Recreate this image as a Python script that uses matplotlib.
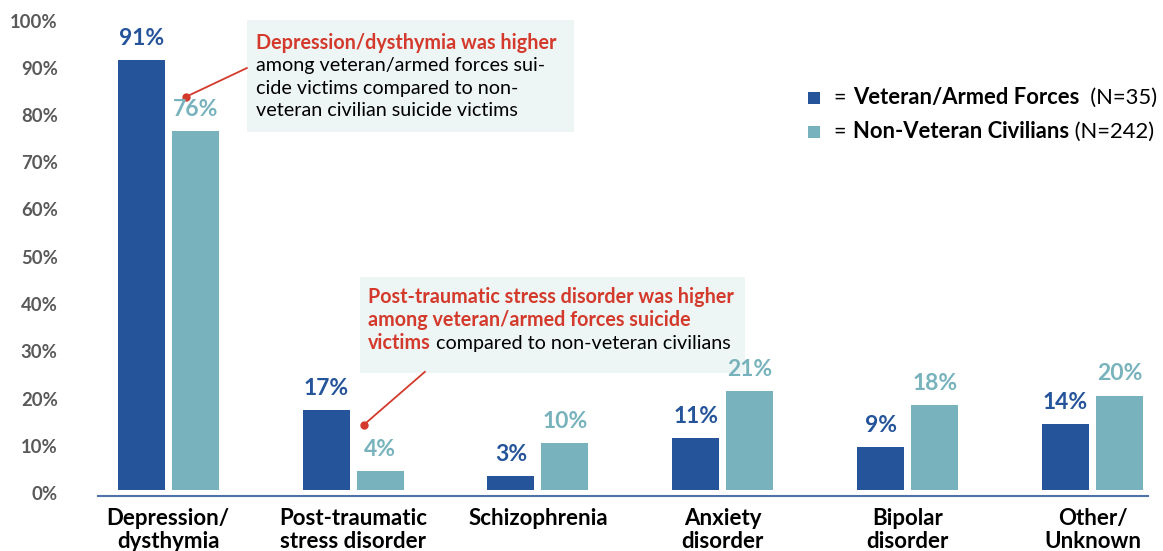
import matplotlib.pyplot as plt
from matplotlib.patches import Rectangle
from matplotlib.transforms import ScaledTranslation
import numpy as np

plt.rcParams['font.family'] = ['Lato', 'DejaVu Sans']

categories = ['Depression/\ndysthymia', 'Post-traumatic\nstress disorder', 'Schizophrenia',
              'Anxiety\ndisorder', 'Bipolar\ndisorder', 'Other/\nUnknown']
veteran = [91, 17, 3, 11, 9, 14]
civilian = [76, 4, 10, 21, 18, 20]
yticks = [0, 10, 20, 30, 40, 50, 60, 70, 80, 90, 100]

blue = '#25549a'
teal = '#78b3bd'
red = '#d33a2c'
W, H = 1163, 551


def px(x, y):
    # pixel (top-left origin) -> figure fraction
    return (x / W, 1 - y / H)


fig = plt.figure(figsize=(W / 100, H / 100), dpi=100)
ax = fig.add_axes([98 / W, 61 / H, 1050 / W, 472.5 / H])
ax.patch.set_visible(False)

x = np.arange(len(categories))
off = 0.146
bw = 0.254
ax.bar(x - off, veteran, bw, color=blue, zorder=2)
ax.bar(x + off, civilian, bw, color=teal, zorder=2)

for i in range(len(x)):
    ax.annotate(f'{veteran[i]}%', (x[i] - off, veteran[i]), xytext=(0, 8),
                textcoords='offset points', ha='center', va='bottom',
                fontsize=16.5, fontweight='bold', color=blue, zorder=5)
    ax.annotate(f'{civilian[i]}%', (x[i] + off, civilian[i]), xytext=(0, 8),
                textcoords='offset points', ha='center', va='bottom',
                fontsize=16.5, fontweight='bold', color=teal, zorder=5)
    ax.annotate(categories[i], (x[i], 0), xycoords=('data', 'axes fraction'),
                xytext=(0, -13), textcoords='offset points', ha='center', va='top',
                fontsize=16, fontweight='bold', color='black', linespacing=1.1)

ax.set_xlim(-0.38, 5.30)
ax.set_ylim(0, 100)
ax.set_yticks(yticks)
ax.set_yticklabels([f'{v}%' for v in yticks], fontsize=13.3, fontweight='bold', color='#595959')
ax.tick_params(axis='y', length=0, pad=29)
for lab in ax.get_yticklabels():
    lab.set_transform(lab.get_transform() + ScaledTranslation(0, -3 / 100, fig.dpi_scale_trans))
ax.set_xticks([])
for s in ['left', 'top', 'right']:
    ax.spines[s].set_visible(False)
ax.spines['bottom'].set_position(('outward', 4.5))
ax.spines['bottom'].set_color('#4f72a8')
ax.spines['bottom'].set_linewidth(1.5)

# callout boxes
box_col = '#eef5f5'
ax.add_patch(Rectangle(px(247, 132), 327 / W, 112 / H, transform=fig.transFigure,
                       facecolor=box_col, edgecolor='none', zorder=1, clip_on=False))
ax.add_patch(Rectangle(px(360, 373), 385 / W, 96 / H, transform=fig.transFigure,
                       facecolor=box_col, edgecolor='none', zorder=1, clip_on=False))

fs = 14.2
ax.text(*px(256, 49), 'Depression/dysthymia was higher', fontsize=fs, fontweight='bold',
        color=red, va='baseline', transform=fig.transFigure, zorder=5)
for k, line in enumerate(['among veteran/armed forces sui-', 'cide victims compared to non-',
                          'veteran civilian suicide victims']):
    ax.text(*px(256, 71 + 22.7 * k), line, fontsize=fs, color='black', va='baseline',
            transform=fig.transFigure, zorder=5)

ax.text(*px(368, 303), 'Post-traumatic stress disorder was higher', fontsize=fs,
        fontweight='bold', color=red, va='baseline', transform=fig.transFigure, zorder=5)
ax.text(*px(368, 326), 'among veteran/armed forces suicide', fontsize=fs,
        fontweight='bold', color=red, va='baseline', transform=fig.transFigure, zorder=5)
t = ax.text(*px(368, 349), 'victims', fontsize=fs, fontweight='bold', color=red,
            va='baseline', transform=fig.transFigure, zorder=5)
ax.annotate(' compared to non-veteran civilians', xy=(1, px(0, 349)[1]),
            xycoords=(t, 'figure fraction'), va='baseline', ha='left', fontsize=fs,
            color='black', annotation_clip=False, zorder=5)

# pointer lines
ax.plot([0.095, 0.425], [83.2, 89.3], color=red, lw=1.3, clip_on=False, zorder=4)
ax.plot([0.095], [83.2], 'o', color=red, ms=5, clip_on=False, zorder=4)
ax.plot([1.058, 1.388], [13.8, 25.0], color=red, lw=1.3, clip_on=False, zorder=4)
ax.plot([1.058], [13.8], 'o', color=red, ms=5, clip_on=False, zorder=4)

# legend
legend_rows = [(blue, 'Veteran/Armed Forces', '  (N=35)', 104),
               (teal, 'Non-Veteran Civilians', ' (N=242)', 138)]
for col, bold_txt, norm_txt, yb in legend_rows:
    ax.add_patch(Rectangle(px(808, yb), 12 / W, 12 / H, transform=fig.transFigure,
                           facecolor=col, edgecolor='none', clip_on=False))
    ax.text(*px(833, yb), '=', fontsize=15.5, color='black', va='baseline',
            transform=fig.transFigure)
    tb = ax.text(*px(853, yb), bold_txt, fontsize=15.8, fontweight='bold', color='black',
                 va='baseline', transform=fig.transFigure)
    ax.annotate(norm_txt, xy=(1, px(0, yb)[1]), xycoords=(tb, 'figure fraction'),
                va='baseline', ha='left', fontsize=15.8, color='black',
                annotation_clip=False)

fig.savefig('out.png', dpi=100)
